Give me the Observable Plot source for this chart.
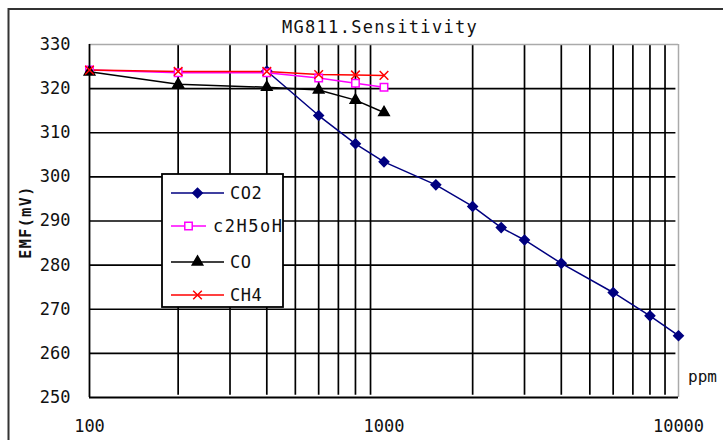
<!DOCTYPE html>
<html><head><meta charset="utf-8">
<script src="https://cdn.jsdelivr.net/npm/d3@7"></script>
<script src="https://cdn.jsdelivr.net/npm/@observablehq/plot@0.6"></script>
<style>body{margin:0;background:#fff;overflow:hidden} svg{display:block}</style>
</head><body><div id="chart"></div>
<script>
const titleText = "MG811.Sensitivity";
const yLabel = "EMF(mV)";
const xUnit = "ppm";
const seriesNames = ["CO2", "c2H5oH", "CO", "CH4"];
const seriesColors = ["#000080", "#ff00ff", "#000000", "#ff0000"];
const co2Ppm = [400, 600, 800, 1000, 1500, 2000, 2500, 3000, 4000, 6000, 8000, 10000];
const co2Emf = [324, 313.9, 307.5, 303.4, 298.2, 293.3, 288.5, 285.7, 280.4, 273.8, 268.5, 264];
const c2h5ohPpm = [100, 200, 400, 600, 800, 1000];
const c2h5ohEmf = [324.2, 323.6, 323.6, 322.4, 321.2, 320.3];
const coPpm = [100, 200, 400, 600, 800, 1000];
const coEmf = [323.8, 321.0, 320.3, 319.7, 317.4, 314.6];
const ch4Ppm = [100, 200, 400, 600, 800, 1000];
const ch4Emf = [324.2, 323.9, 323.9, 323.2, 323.1, 323.0];
const xTicks = [100, 1000, 10000];
const yTicks = [250, 260, 270, 280, 290, 300, 310, 320, 330];
const xGrid = [200, 300, 400, 500, 600, 700, 800, 900, 2000, 3000, 4000, 5000, 6000, 7000, 8000, 9000];
const yGrid = [260, 270, 280, 290, 300, 310, 320];

const mk = (ppm, emf, name) => ppm.map((p, i) => ({ppm: p, emf: emf[i], name}));
const co2 = mk(co2Ppm, co2Emf, seriesNames[0]);
const eth = mk(c2h5ohPpm, c2h5ohEmf, seriesNames[1]);
const co = mk(coPpm, coEmf, seriesNames[2]);
const ch4 = mk(ch4Ppm, ch4Emf, seriesNames[3]);

const symbolsSpec = [
  {symbol: "diamond2", fill: seriesColors[0], stroke: seriesColors[0], r: 4.3},
  {symbol: "square", fill: "white", stroke: seriesColors[1], r: 4.2},
  {symbol: "triangle", fill: seriesColors[2], stroke: seriesColors[2], r: 3.9},
  {symbol: "times", fill: "none", stroke: seriesColors[3], r: 4}
];
const allSeries = [co2, eth, co, ch4];

const FONT = "DejaVu Sans Mono";
const chart = Plot.plot({
  width: 723, height: 440,
  marginLeft: 89, marginRight: 45, marginTop: 44, marginBottom: 43,
  style: {fontFamily: FONT, fontSize: "17px", background: "white", color: "#111"},
  x: {type: "log", domain: [100, 10000]},
  y: {domain: [250, 330]},
  marks: [
    Plot.ruleX(xGrid, {stroke: "#000", strokeWidth: 1.7, y1: 330, y2: 250.5}),
    Plot.ruleY(yGrid, {stroke: "#000", strokeWidth: 1.7, x1: 100, x2: 9800}),
    Plot.ruleY([330], {stroke: "#aaa", strokeWidth: 1.5}),
    Plot.ruleX([10000], {stroke: "#aaa", strokeWidth: 1.5}),
    Plot.ruleX([100], {stroke: "#000", strokeWidth: 1.8}),
    Plot.ruleY([250], {stroke: "#000", strokeWidth: 1.8}),
    Plot.axisX(xTicks, {tickSize: 0, tickPadding: 22, tickFormat: d => String(d), label: null, fontSize: 17, letterSpacing: 1}),
    Plot.axisY(yTicks, {tickSize: 0, tickPadding: 19, tickFormat: d => String(d), label: null, fontSize: 17, letterSpacing: 1}),
    ...allSeries.map((s, i) => Plot.line(s, {x: "ppm", y: "emf", stroke: seriesColors[i], strokeWidth: 1.5})),
    ...allSeries.map((s, i) => Plot.dot(s, {x: "ppm", y: "emf", symbol: () => symbolsSpec[i].symbol, fill: symbolsSpec[i].fill, stroke: symbolsSpec[i].stroke, r: symbolsSpec[i].r, strokeWidth: 1.5}))
  ]
});
document.getElementById("chart").appendChild(chart);

const svg = d3.select(chart);
// outer frame
svg.insert("rect", ":first-child").attr("x", 8.5).attr("y", 9).attr("width", 800).attr("height", 500)
  .attr("fill", "none").attr("stroke", "#333").attr("stroke-width", 2);
// title
svg.append("text").attr("x", 380).attr("y", 33).attr("text-anchor", "middle")
  .attr("font-family", FONT).attr("font-size", 17).attr("letter-spacing", 1.3).attr("fill", "#111").text(titleText);
// y label
svg.append("text").attr("transform", "translate(31,222) rotate(-90)").attr("text-anchor", "middle")
  .attr("font-family", FONT).attr("font-size", 15).attr("font-weight", "bold").attr("letter-spacing", 1.5).attr("fill", "#111").text(yLabel);
// unit
svg.append("text").attr("x", 688).attr("y", 382).attr("text-anchor", "start")
  .attr("font-family", FONT).attr("font-size", 16).attr("fill", "#111").text(xUnit);

// legend
const lg = svg.append("g");
lg.append("rect").attr("x", 162).attr("y", 174).attr("width", 121).attr("height", 133)
  .attr("fill", "white").attr("stroke", "#000").attr("stroke-width", 1.8);
const rowsY = [193, 226, 262, 295];
const lineSpans = [[171, 224], [171, 206], [171, 224], [171, 224]];
const textX = [230, 213, 230, 230];
const symMap = {diamond2: d3.symbolDiamond2, square: d3.symbolSquare, triangle: d3.symbolTriangle, times: d3.symbolTimes};
seriesNames.forEach((n, i) => {
  const [a, b] = lineSpans[i];
  lg.append("line").attr("x1", a).attr("x2", b).attr("y1", rowsY[i]).attr("y2", rowsY[i])
    .attr("stroke", seriesColors[i]).attr("stroke-width", 1.5);
  const sp = symbolsSpec[i];
  lg.append("path").attr("d", d3.symbol(symMap[sp.symbol], Math.PI * sp.r * sp.r)())
    .attr("transform", `translate(${(a + b) / 2},${rowsY[i]})`)
    .attr("fill", sp.fill).attr("stroke", sp.stroke).attr("stroke-width", 1.5);
  lg.append("text").attr("x", textX[i]).attr("y", rowsY[i]).attr("dy", "0.35em").attr("text-anchor", "start")
    .attr("font-family", FONT).attr("font-size", 17).attr("letter-spacing", i === 1 ? 1.5 : 0.5).attr("fill", "#111").text(n);
});
</script></body></html>
